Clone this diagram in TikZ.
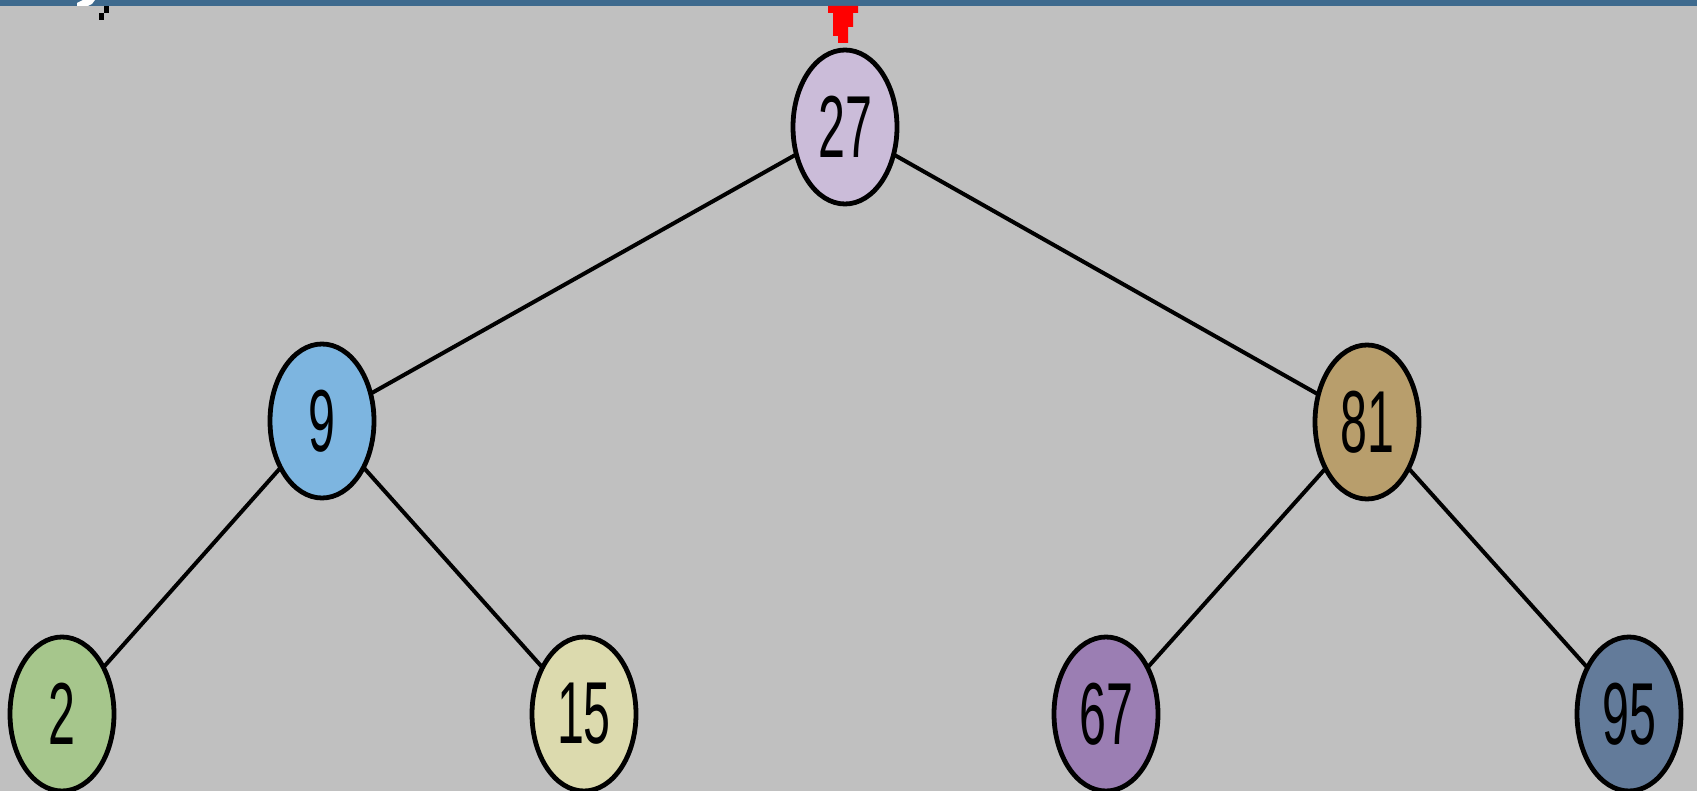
\documentclass[tikz,border=0pt]{standalone}
\usepackage{fontspec}
\usepackage{graphicx}
\setmainfont{Liberation Sans}
\usetikzlibrary{shapes.geometric}
\definecolor{bg}{HTML}{C0C0C0}
\definecolor{topbar}{HTML}{3E6A8E}
\definecolor{c27}{HTML}{CBBCD9}
\definecolor{c9}{HTML}{7DB5E0}
\definecolor{c81}{HTML}{B89E6C}
\definecolor{c2}{HTML}{A6C68C}
\definecolor{c15}{HTML}{DCDAAE}
\definecolor{c67}{HTML}{9B7EB3}
\definecolor{c95}{HTML}{637B9A}
\tikzset{
  treenode/.style={ellipse, draw=black, line width=2.4pt, minimum width=52pt, minimum height=77pt, inner sep=0pt,
    font=\fontsize{44}{44}\selectfont},
  edge/.style={draw=black, line width=2pt}
}
\newcommand{\numtxt}[1]{\scalebox{0.55}[1]{#1}}
\begin{document}
\begin{tikzpicture}[x=0.5pt,y=-0.5pt]
\useasboundingbox (0,0) rectangle (1697,791);
\fill[bg] (0,0) rectangle (1697,791);
\fill[topbar] (0,0) rectangle (1697,6);
\fill[white] (77,6) -- (77,3) -- (83,0) -- (95,0) -- (92,4) -- (88,6) -- cycle;
\fill[black] (99,13) rectangle (104,20);
\fill[black] (104,6) rectangle (109,13);
\fill[red] (828,6) -- (858,6) -- (858,13) -- (853,13) -- (853,27) -- (848,27) -- (848,43) -- (838,43) -- (838,36) -- (833,36) -- (833,13) -- (828,13) -- cycle;
\coordinate (p27) at (845,127);
\coordinate (p9) at (322,421);
\coordinate (p81) at (1367,422);
\coordinate (p2) at (62,714);
\coordinate (p15) at (584,714);
\coordinate (p67) at (1106,714);
\coordinate (p95) at (1629,714);
\draw[edge] (p27) -- (p9);
\draw[edge] (p27) -- (p81);
\draw[edge] (p9) -- (p2);
\draw[edge] (p9) -- (p15);
\draw[edge] (p81) -- (p67);
\draw[edge] (p81) -- (p95);
\node[treenode, fill=c27] (n27) at (p27) {\numtxt{27}};
\node[treenode, fill=c9] (n9) at (p9) {\numtxt{9}};
\node[treenode, fill=c81] (n81) at (p81) {\numtxt{81}};
\node[treenode, fill=c2] (n2) at (p2) {\numtxt{2}};
\node[treenode, fill=c15] (n15) at (p15) {\numtxt{15}};
\node[treenode, fill=c67] (n67) at (p67) {\numtxt{67}};
\node[treenode, fill=c95] (n95) at (p95) {\numtxt{95}};
\end{tikzpicture}
\end{document}
